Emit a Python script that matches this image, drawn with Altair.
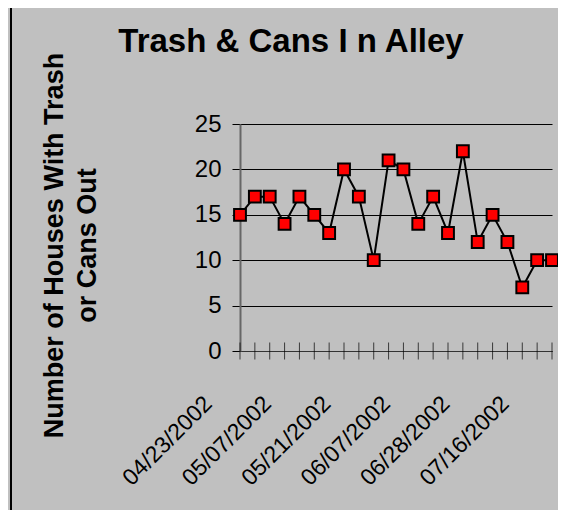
import altair as alt
import pandas as pd

dates = ["04/23/2002", "04/26/2002", "04/30/2002", "05/03/2002", "05/07/2002",
         "05/10/2002", "05/14/2002", "05/17/2002", "05/21/2002", "05/24/2002",
         "05/31/2002", "06/04/2002", "06/07/2002", "06/11/2002", "06/14/2002",
         "06/21/2002", "06/28/2002", "07/02/2002", "07/09/2002", "07/12/2002",
         "07/16/2002", "07/19/2002"]
houses = [15, 17, 17, 14, 17, 15, 13, 20, 17, 10, 21, 20, 14, 17, 13, 22,
          12, 15, 12, 7, 10, 10]
labeled_dates = dates[::4]
y_ticks = [0, 5, 10, 15, 20, 25]

df = pd.DataFrame({"date": dates, "houses": houses})

FONT = "Liberation Sans"
W, H = 312, 227

x_enc = alt.X(
    "date:N", sort=dates,
    scale=alt.Scale(type="point", padding=0, domain=dates),
    axis=alt.Axis(
        title=None, values=labeled_dates, ticks=False, grid=False,
        domainColor="#333333", domainWidth=1,
        labelAngle=-45, labelAlign="right", labelBaseline="top",
        labelFont=FONT, labelFontSize=23, labelColor="black",
        labelPadding=41, labelOffset=-40, labelOverlap=False,
    ),
)
y_enc = alt.Y(
    "houses:Q",
    scale=alt.Scale(domain=[0, 25], nice=False, zero=True),
    axis=alt.Axis(
        values=y_ticks, grid=True, gridColor="black", gridWidth=1, gridOpacity=1,
        tickSize=8, tickColor="black", tickWidth=1,
        domainColor="#666666", domainWidth=2,
        labelFont=FONT, labelFontSize=24, labelColor="black", labelPadding=11,
        title=["Number of Houses With Trash", "or Cans Out"],
        titleFont=FONT, titleFontSize=27, titleFontWeight="bold", titleColor="black",
        titleAngle=-90, titleBaseline="top", titleAlign="center",
        titleLineHeight=33, titleX=-199, titleY=121,
    ),
)

base = alt.Chart(df)

line = base.mark_line(color="black", strokeWidth=2).encode(x=x_enc, y=y_enc)
pts = base.mark_point(shape="square", size=140, filled=True, fill="#ff0000",
                      stroke="black", strokeWidth=2, opacity=1).encode(x=x_enc, y="houses:Q")
cross_ticks = base.mark_tick(color="black", thickness=1, size=17, orient="vertical").encode(
    x=x_enc, y=alt.datum(0))
border = base.mark_rule(color="black", strokeWidth=2).encode(
    x=alt.value(-229), y=alt.value(-116), y2=alt.value(386))

chart = alt.layer(line, cross_ticks, pts, border).properties(
    width=W, height=H,
    title=alt.TitleParams(
        text="Trash & Cans I n Alley", font=FONT, fontSize=33, fontWeight="bold",
        color="black", anchor="middle", dx=-105, dy=78, baseline="alphabetic", offset=0,
    ),
    autosize=alt.AutoSizeParams(type="none"),
    padding={"left": 232, "top": 116, "right": 6, "bottom": 159},
    background="#c0c0c0",
).configure_view(strokeWidth=0)

chart.save("out.html", embed_options={"renderer": "svg", "actions": False})
